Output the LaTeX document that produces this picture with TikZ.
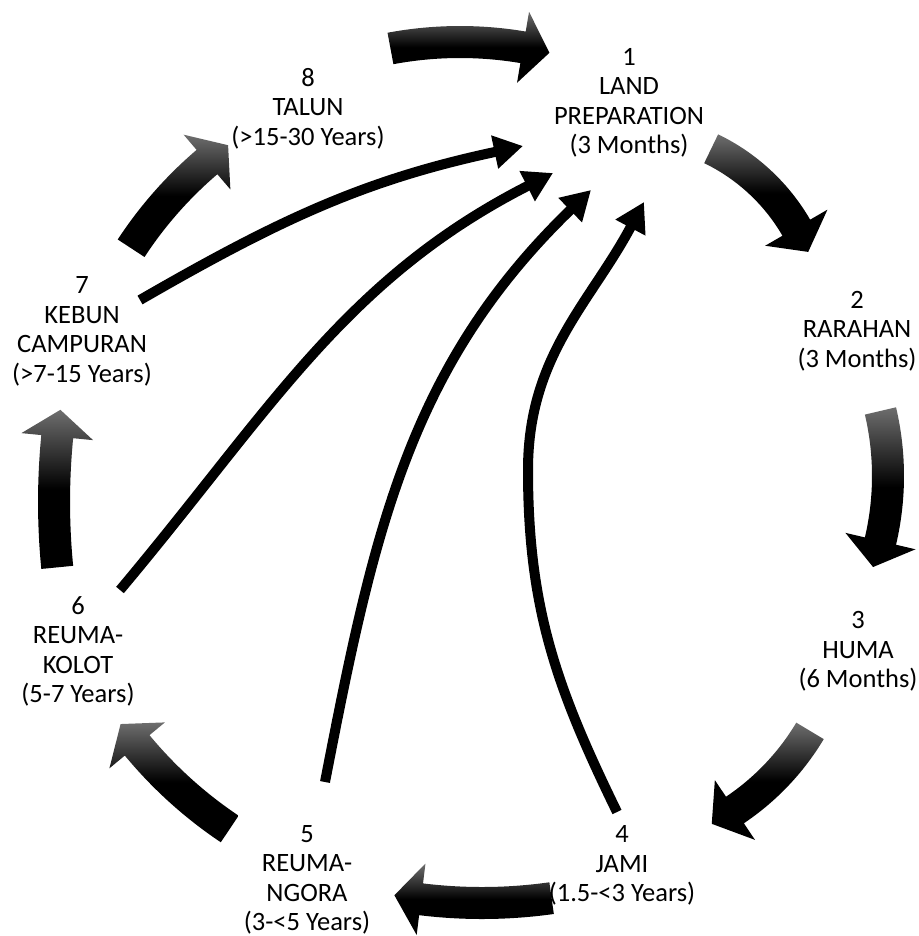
\documentclass[tikz,border=0pt]{standalone}
\usepackage{fontspec}
\setmainfont{Carlito}
\usetikzlibrary{calc,arrows.meta}
\definecolor{arrowgrey}{RGB}{110,110,110}
\tikzset{
  lbl/.style={align=center, font=\fontsize{26.5}{29.5}\selectfont, inner sep=0pt},
  bigarrow/.style={top color=arrowgrey, bottom color=black, middle color=black},
  link/.style={line width=10pt, -{Triangle[length=29pt,width=32pt]}},
}
% #1 cx, #2 cy (image), #3 radius, #4 tail angle, #5 head-base angle
\newcommand\cycarrow[5]{%
  \pgfmathsetmacro\cysgn{(#5>#4)?1:-1}%
  \pgfmathsetmacro\cytip{#5+\cysgn*27/#3*57.29578}%
  \pgfmathsetmacro\cyro{#3+16}\pgfmathsetmacro\cyri{#3-16}%
  \pgfmathsetmacro\cyhro{#3+36}\pgfmathsetmacro\cyhri{#3-36}%
  \shade[bigarrow] ($(#1,-#2)+(#4:\cyro pt)$) arc[start angle=#4,end angle=#5,radius=\cyro pt]
    -- ($(#1,-#2)+(#5:\cyhro pt)$) -- ($(#1,-#2)+(\cytip:#3pt)$)
    -- ($(#1,-#2)+(#5:\cyhri pt)$) -- ($(#1,-#2)+(#5:\cyri pt)$)
    arc[start angle=#5,end angle=#4,radius=\cyri pt] -- cycle;
}
\begin{document}
\begin{tikzpicture}[x=1pt,y=1pt]
\useasboundingbox (0,0) rectangle (918,-936);
% cycle arrows
\cycarrow{460}{420}{378}{100.6}{80.4}
\cycarrow{625}{327}{198}{64.2}{30.1}
\cycarrow{603}{476}{285}{13.2}{-13.2}
\cycarrow{595.5}{602.5}{250}{-30.9}{-56.1}
\cycarrow{482}{403}{500}{-82}{-97}
\cycarrow{470}{470}{432}{236.2}{219.6}
\cycarrow{724}{502}{670}{185.6}{174.4}
\cycarrow{470}{470}{405}{146.8}{130.5}
% labels
\node[lbl] (n1) at (629,-103) {1\\LAND\\PREPARATION\\(3 Months)};
\node[lbl] (n2) at (857,-331) {2\\RARAHAN\\(3 Months)};
\node[lbl] (n3) at (858,-651.5) {3\\HUMA\\(6 Months)};
\node[lbl] (n4) at (622,-865.5) {4\\JAMI\\(1.5-<3 Years)};
\node[lbl] (n5) at (307,-880) {5\\REUMA-\\NGORA\\(3-<5 Years)};
\node[lbl] (n6) at (78,-651.5) {6\\REUMA-\\KOLOT\\(5-7 Years)};
\node[lbl] (n7) at (82,-331.5) {7\\KEBUN\\CAMPURAN\\(>7-15 Years)};
\node[lbl] (n8) at (308,-108.5) {8\\TALUN\\(>15-30 Years)};
% return links
\coordinate (t7) at (140,-300);  \coordinate (p7) at (523,-146);
\coordinate (t6) at (120,-590);  \coordinate (p6) at (553,-173);
\coordinate (t5) at (325,-782);  \coordinate (p5) at (591,-190);
\coordinate (t4) at (617,-812);  \coordinate (m4) at (528,-470);
\coordinate (p4) at (644,-202);
\draw[link] (t7) to[out=30,in=192] (p7);
\draw[link] (t6) to[out=50,in=207] (p6);
\draw[link] (t5) to[out=79,in=224] (p5);
\draw[link] (t4) to[out=116,in=270] (m4) to[out=90,in=242] (p4);
\end{tikzpicture}
\end{document}
